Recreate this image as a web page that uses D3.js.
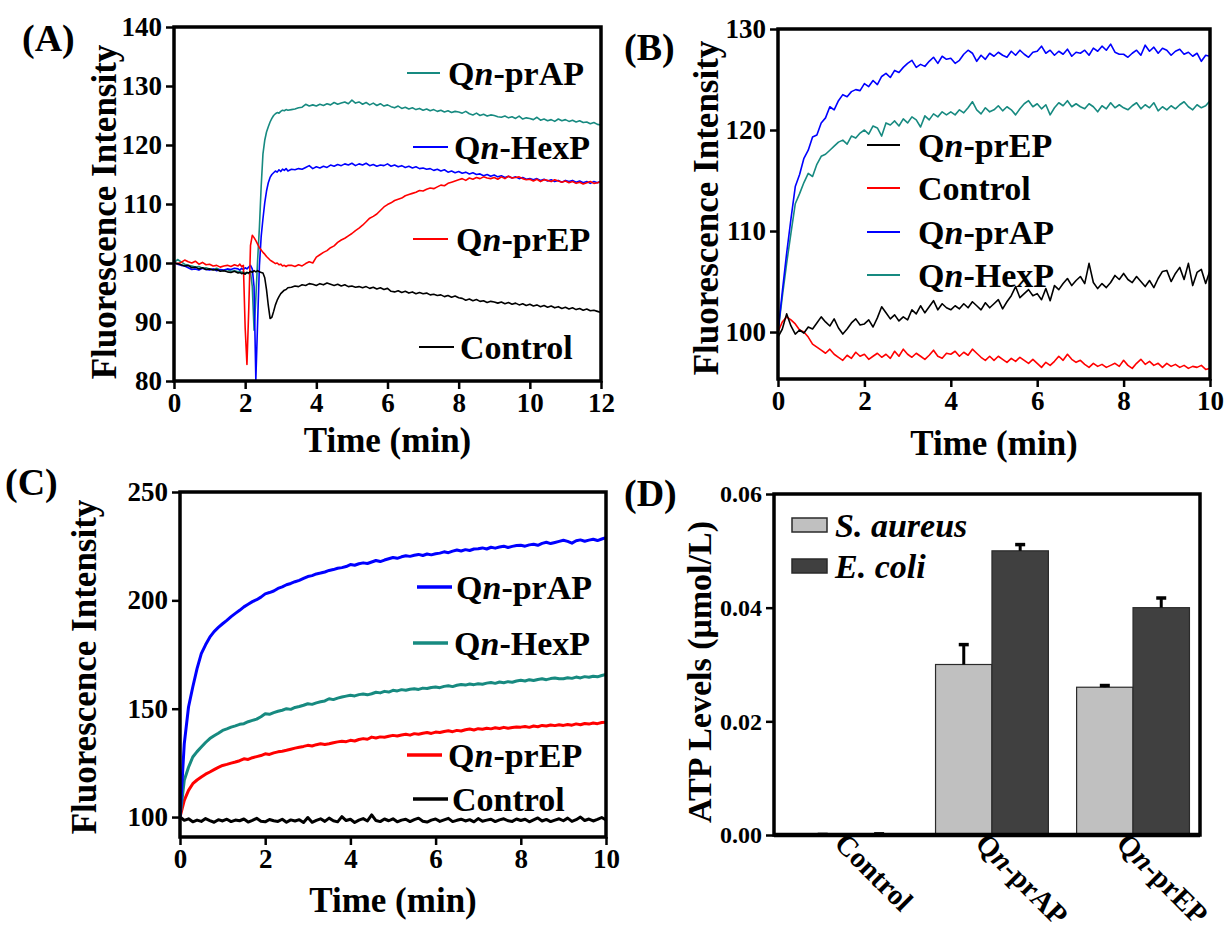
<!DOCTYPE html>
<html>
<head>
<meta charset="utf-8">
<script src="https://cdn.jsdelivr.net/npm/d3@7"></script>
<style>
  body { margin: 0; background: #fff; }
  text { font-family: "Liberation Serif", "Times New Roman", serif; font-weight: bold; fill: #000; }
</style>
</head>
<body>
<div id="fig"></div>
<script>
// ---------------- data ----------------
// panel A : time grid is denser around the injection spikes
var aTime = d3.range(0, 1.75, 0.1).concat(d3.range(1.8, 3.225, 0.05), d3.range(3.3, 12.05, 0.1));
var aNames = ['Qn-prAP', 'Qn-HexP', 'Qn-prEP', 'Control'];
var aPrAP = [
  100.0, 100.6, 100.2, 99.8, 99.6, 99.5, 99.3, 99.4, 99.1, 99.2,
  99.0, 98.9, 99.1, 98.8, 98.7, 98.9, 98.6, 98.7,
  98.5, 98.6, 98.4, 98.5, 98.3, 98.4, 98.2, 98.4, 96.0, 88.6,
  94.0, 100.5, 106.0, 113.0, 118.5, 120.8, 122.2, 123.1, 123.9, 124.5,
  125.0, 125.3, 125.5, 125.4, 125.7, 125.9, 125.8, 126.0, 125.9,
  126.0, 126.1, 126.3, 126.4, 126.9, 126.6, 126.8,
  126.6, 126.9, 126.7, 127.0, 126.8, 127.2, 126.9, 127.1, 127.3, 127.0,
  127.6, 127.1, 127.3, 126.9, 127.2, 126.8, 127.1, 126.7, 127.0, 126.6,
  126.8, 126.5, 126.3, 126.6, 126.2, 126.4, 126.1, 126.3, 126.0, 126.2,
  125.9, 126.1, 125.8, 126.0, 125.7, 125.9, 125.6, 125.8, 125.5, 125.7,
  125.6, 125.4, 125.7, 125.3, 125.1, 125.4, 125.0, 125.2, 124.9, 125.1,
  125.0, 124.8, 124.7, 124.9, 124.6, 124.8, 124.5, 124.9, 124.4, 124.6,
  124.5, 124.3, 124.7, 124.2, 124.4, 124.1, 124.3, 124.0, 124.4, 124.1,
  124.3, 124.0, 124.2, 123.9, 124.1, 123.8, 123.9, 123.6, 123.8, 123.5,
  123.4
];
var aHexP = [
  100.0, 99.8, 99.6, 99.5, 99.2, 98.9, 99.0, 98.8, 99.1, 98.9,
  98.8, 99.0, 98.7, 98.9, 98.8, 99.0, 98.9, 99.1,
  99.0, 98.8, 99.1, 98.9, 99.2, 99.0, 99.3, 99.6, 99.0, 96.0,
  80.2, 90.0, 99.5, 104.5, 107.5, 110.2, 112.2, 113.6, 114.5, 115.0,
  115.3, 115.6, 115.4, 115.8, 115.5, 115.9, 115.7, 116.0, 115.6,
  115.9, 115.8, 116.0, 115.9, 116.2, 116.5, 116.0,
  116.3, 116.1, 116.4, 116.2, 116.6, 116.4, 116.7, 116.5, 116.8, 116.6,
  116.9, 116.5, 116.8, 116.6, 116.9, 116.5, 116.7, 116.4, 116.6, 116.5,
  116.8, 116.4, 116.6, 116.3, 116.5, 116.2, 116.4, 116.1, 116.3, 116.0,
  116.1, 115.9, 116.0, 115.7, 115.9, 115.6, 115.8, 115.4, 115.6, 115.3,
  115.5, 115.2, 115.4, 115.1, 115.3, 115.0, 115.1, 114.8, 115.0, 114.7,
  114.9, 114.6, 114.8, 114.5, 114.7, 114.4, 114.6, 114.3, 114.5, 114.2,
  114.3, 114.1, 114.3, 114.0, 114.2, 113.9, 114.1, 113.8, 114.0, 113.7,
  114.0, 113.8, 114.0, 113.7, 113.9, 113.6, 113.8, 113.5, 113.8, 113.6,
  113.9
];
var aPrEP = [
  100.0, 99.9, 100.1, 100.5, 100.2, 100.0, 100.3, 99.8, 100.1, 99.7,
  99.8, 99.5, 99.6, 99.3, 99.5, 99.6, 99.4, 99.7,
  99.5, 99.8, 99.4, 99.6, 89.0, 82.8, 92.0, 103.0, 104.7, 104.3,
  103.8, 103.2, 102.6, 102.2, 101.8, 101.5, 101.1, 100.8, 100.5, 100.3,
  100.1, 99.9, 100.0, 99.7, 99.8, 99.5, 99.6, 99.4, 99.6,
  99.6, 99.4, 99.7, 99.5, 99.9, 100.2, 100.0,
  101.0, 101.4, 101.8, 102.1, 102.6, 102.9, 103.5, 103.9, 104.2, 104.6,
  105.0, 105.5, 105.9, 106.4, 107.0, 107.6, 107.9, 108.3, 108.9, 109.5,
  109.9, 110.2, 110.6, 110.8, 111.0, 111.4, 111.6, 111.8, 112.0, 112.3,
  112.2, 112.5, 112.7, 112.6, 112.9, 113.2, 113.1, 113.5, 113.7, 113.9,
  114.1, 114.3, 114.0, 114.4, 114.2, 114.5, 114.3, 114.6, 114.4, 114.3,
  114.5, 114.2, 114.6, 114.3, 114.7, 114.4, 114.5, 114.6, 114.3, 114.1,
  114.2, 113.9, 114.2, 113.8, 114.1, 114.0, 113.8, 114.1, 113.9, 113.7,
  113.9, 113.6, 113.8, 113.5, 113.7, 113.4, 113.6, 113.8, 113.5, 113.6,
  113.8
];
var aControl = [
  100.0, 99.9, 99.7, 99.5, 99.6, 99.2, 99.3, 99.0, 99.2, 98.9,
  99.0, 98.8, 98.9, 98.6, 98.7, 98.5, 98.4, 98.6,
  98.3, 98.4, 98.2, 98.3, 98.1, 98.4, 98.3, 98.6, 98.4, 98.7,
  98.5, 98.7, 98.5, 98.4, 98.3, 97.5, 95.5, 92.8, 90.6, 90.8,
  91.8, 92.9, 93.7, 94.3, 94.8, 95.1, 95.4, 95.5, 95.8,
  95.9, 96.1, 96.0, 96.3, 96.2, 96.5, 96.4,
  96.2, 96.5, 96.3, 96.6, 96.4, 96.2, 96.4, 96.1, 96.3, 96.0,
  96.1, 95.9, 96.0, 95.8, 96.0, 95.7, 95.9, 95.6, 95.8, 95.5,
  95.7, 95.2, 95.1, 95.3, 95.0, 95.2, 94.9, 95.1, 94.8, 95.0,
  94.8, 94.9, 94.6, 94.7, 94.5, 94.6, 94.3, 94.5, 94.2, 94.4,
  94.1, 94.0, 93.7, 93.9, 93.6, 93.8, 93.5, 93.6, 93.3, 93.5,
  93.4, 93.2, 93.4, 93.1, 93.3, 93.0, 93.2, 92.9, 93.1, 92.8,
  93.0, 92.7, 92.9, 92.6, 92.8, 92.5, 92.7, 92.4, 92.6, 92.3,
  92.5, 92.2, 92.4, 92.1, 92.3, 92.0, 92.2, 91.9, 92.0, 91.8,
  91.6
];

// panel B : 0.1 min sampling, 0-10 min
var bTime = d3.range(0, 10.05, 0.1);
var bNames = ['Qn-prEP', 'Control', 'Qn-prAP', 'Qn-HexP'];
var bPrAP = [
  100.0, 104.0, 107.8, 111.2, 114.4, 115.6, 117.2, 118.0, 119.3, 119.5,
  120.7, 121.2, 122.3, 122.0, 122.9, 123.5, 123.3, 123.8, 124.0, 123.9,
  124.6, 124.3, 124.9, 124.5, 125.3, 125.6, 125.2, 125.9, 125.7, 126.2,
  126.6, 126.9, 126.2, 126.5, 126.3, 126.8, 127.2, 126.6, 127.3, 127.0,
  127.1, 126.6, 126.9, 127.5, 127.9, 127.6, 126.8, 127.4, 127.0, 127.6,
  127.3, 127.7, 127.4, 127.2, 127.8, 127.4, 127.9, 127.5, 127.2, 127.7,
  127.8, 128.3, 127.6, 127.9, 127.4, 127.8, 127.5, 128.0, 127.3, 127.7,
  127.6, 127.9, 127.4, 128.1, 127.8, 128.3, 127.9, 128.5, 127.7, 127.5,
  127.5, 127.2, 127.6, 127.9, 127.4, 128.4, 127.8, 128.2, 127.6, 128.1,
  127.9, 127.4, 127.8, 128.0, 127.5, 127.7, 127.3, 127.6, 126.8, 127.4,
  127.3
];
var bHexP = [
  100.0, 103.5, 106.8, 109.8, 112.7, 113.7, 114.8, 115.7, 115.4, 116.6,
  117.4, 117.6, 118.0, 118.4, 118.8, 119.0, 118.6, 119.4, 119.2, 119.7,
  120.0, 119.6, 120.4, 120.2, 119.4, 120.7, 120.5, 120.9, 120.4, 121.1,
  120.7, 121.3, 121.0, 120.3, 121.4, 121.0, 121.6, 121.3, 121.8, 121.5,
  121.8, 121.5, 122.0, 121.7, 122.2, 122.8, 122.0, 121.6, 122.2, 121.8,
  122.0, 122.4, 121.9, 122.3, 122.0, 121.5, 122.1, 122.6, 122.9, 122.3,
  122.6, 122.1, 122.5, 121.5, 122.2, 122.7, 122.4, 122.9, 122.3, 122.6,
  122.3, 122.1, 122.6, 122.3, 121.8, 122.4, 122.1, 122.7, 122.2, 122.5,
  122.2, 122.0, 122.4, 122.7, 122.1, 122.5, 122.2, 122.7, 121.9, 122.3,
  122.0, 122.4, 122.1, 122.5, 122.8, 122.3, 122.0, 122.5, 122.2, 122.4,
  122.9
];
var bPrEP = [
  99.5, 100.3, 101.8, 100.6, 99.8, 100.2, 99.9, 100.5, 100.3, 100.9,
  101.5, 101.0, 100.6, 101.3, 100.4, 99.8, 100.3, 100.9, 101.3, 100.7,
  100.8, 101.2, 100.5, 101.4, 102.5, 101.9, 101.3, 101.7, 101.1, 101.5,
  101.2, 102.2, 101.8, 102.6, 101.9, 102.5, 103.1, 102.2, 102.8, 102.4,
  102.2, 102.6, 102.3, 102.8, 102.4, 103.0, 102.6, 102.2, 102.9, 102.4,
  102.8, 103.2, 102.3, 103.0, 103.6, 104.5, 103.4, 103.8, 104.2, 103.6,
  103.8, 103.2, 104.3, 103.1, 104.6, 104.2, 104.8, 105.3, 104.6, 105.1,
  105.5, 104.8, 106.8, 104.9, 104.3, 104.8, 104.4, 104.9, 105.6, 105.2,
  105.8, 105.2, 104.9, 105.5, 105.0, 104.5, 105.1, 104.4, 105.3, 106.0,
  106.1, 105.0, 105.8, 106.4, 105.2, 106.8, 104.6, 105.9, 106.2, 104.8,
  106.1
];
var bControl = [
  100.0, 101.0, 101.5, 101.2, 100.8, 100.2, 100.0, 99.5, 98.8, 98.5,
  98.2, 97.9, 98.3, 97.8, 97.5, 97.2, 97.7, 97.4, 98.0, 97.6,
  97.8, 97.3, 97.6, 97.9, 97.5, 97.8, 97.4, 98.1, 97.6, 98.3,
  97.8, 97.5, 97.9, 97.6, 97.3, 97.7, 98.2, 97.6, 97.4, 97.9,
  97.8, 98.1, 97.6, 98.0, 97.7, 98.3, 97.9, 97.5, 97.2, 97.6,
  97.2, 97.6, 97.3, 97.0, 97.4, 97.1, 97.5, 97.2, 96.9, 97.3,
  96.9, 96.5, 97.0, 96.7, 97.1, 97.6, 97.2, 97.8, 97.3, 97.0,
  97.2, 96.8, 96.5, 96.9, 96.6, 96.8, 96.5, 96.7, 96.9, 96.6,
  97.2, 96.7, 96.4, 96.9, 97.3, 96.8, 97.1, 96.7, 96.9, 96.5,
  96.9, 96.6, 96.8, 96.5, 96.7, 96.4, 96.6, 96.5, 96.7, 96.3,
  96.4
];

// panel C : 0.1 min sampling, 0-10 min
var cTime = d3.range(0, 10.05, 0.1);
var cNames = ['Qn-prAP', 'Qn-HexP', 'Qn-prEP', 'Control'];
var cPrAP = [
  100.0, 133.8, 150.8, 160.0, 168.5, 175.4, 179.5, 183.0, 185.6, 187.5,
  189.2, 190.8, 192.5, 194.0, 195.4, 197.0, 198.2, 199.4, 200.3, 201.5,
  203.0, 203.6, 204.3, 205.5, 206.2, 207.2, 207.8, 208.6, 209.2, 210.1,
  211.0, 211.4, 212.2, 212.6, 213.1, 213.8, 214.2, 214.8, 215.1, 215.6,
  216.5, 216.2, 216.9, 217.3, 217.0, 217.7, 218.4, 217.9, 218.6, 219.2,
  219.8, 219.4, 220.1, 220.6, 220.3, 220.8, 221.2, 220.7, 221.4, 221.0,
  221.5, 221.8, 222.4, 222.0, 222.7, 223.2, 222.8, 223.4, 223.0, 223.7,
  223.8, 224.2, 223.7, 224.5, 224.1, 224.6, 225.0, 224.4, 224.9, 225.3,
  225.4, 225.0, 225.6, 225.9, 225.4, 226.3, 226.8, 226.2, 226.7, 227.2,
  227.7, 227.2, 226.4, 227.5, 227.9, 227.3, 227.8, 228.2, 227.6, 228.3,
  228.9
];
var cHexP = [
  100.0, 117.0, 123.0, 127.7, 130.2, 132.3, 134.4, 136.2, 137.5, 138.7,
  140.0, 140.7, 141.5, 142.1, 142.8, 143.1, 144.0, 144.6, 145.2, 146.3,
  147.7, 147.4, 148.2, 148.8, 149.3, 150.0, 149.7, 150.6, 151.0, 151.6,
  152.3, 152.0, 152.7, 153.2, 153.6, 154.6, 154.2, 154.9, 155.4, 155.8,
  156.2, 155.9, 156.5, 156.8, 156.4, 156.9, 157.6, 157.3, 158.0, 157.7,
  158.5, 158.2, 158.8, 158.5, 159.0, 159.2, 158.9, 159.5, 159.3, 159.8,
  160.0, 159.7, 160.3, 160.6, 160.2, 160.8, 161.2, 160.9, 161.4, 161.1,
  161.5, 161.3, 161.8, 162.1, 161.7, 162.3, 162.0, 162.5, 162.2, 162.8,
  163.1, 162.8, 163.4, 163.0, 163.5, 163.8, 163.4, 163.9, 164.2, 163.8,
  163.8, 164.3, 164.0, 164.6, 164.2, 164.8, 164.5, 165.0, 164.7, 165.3,
  165.8
];
var cPrEP = [
  100.0, 107.7, 112.3, 115.4, 117.1, 118.5, 119.8, 120.8, 121.9, 122.9,
  123.8, 124.3, 124.9, 125.4, 126.0, 126.9, 126.6, 127.4, 127.9, 128.4,
  129.2, 128.9, 129.6, 130.1, 130.4, 130.8, 131.3, 131.8, 132.2, 132.6,
  133.1, 132.8, 133.4, 133.8, 133.5, 133.8, 134.3, 134.7, 135.0, 134.8,
  135.4, 135.1, 135.8, 136.2, 135.9, 136.9, 136.5, 137.0, 136.8, 137.3,
  137.7, 137.4, 137.9, 138.2, 137.8, 138.5, 138.2, 138.7, 139.0, 138.6,
  139.2, 139.0, 139.5, 139.8, 139.4, 140.0, 139.7, 140.3, 140.6, 140.2,
  140.8, 140.5, 141.0, 140.7, 141.2, 140.9, 141.4, 141.0, 141.3, 141.6,
  141.5, 141.8, 141.4, 142.0, 141.7, 142.3, 142.0, 142.5, 142.2, 142.6,
  142.3, 142.7, 142.4, 143.0, 142.6, 143.2, 142.9, 143.4, 143.1, 143.6,
  143.8
];
var cControl = [
  100.0, 98.5, 99.2, 97.8, 98.6, 98.0, 99.3, 98.4, 97.6, 98.8,
  98.2, 99.0, 97.9, 98.6, 98.3, 99.1, 97.7, 98.5, 99.4, 98.1,
  97.8, 98.9, 98.3, 98.0, 99.0, 97.6, 98.7, 98.2, 98.8, 97.5,
  99.8, 97.6, 98.5, 99.2, 98.0, 99.5, 98.3, 97.8, 100.2, 98.4,
  99.0, 97.5, 98.6, 99.3, 98.2, 101.0, 98.4, 97.9, 99.1, 98.3,
  99.2, 97.8, 98.6, 99.0, 97.9, 98.8, 99.5, 98.1, 97.7, 98.6,
  99.1, 98.0, 98.7, 99.4, 97.9, 98.5, 99.0, 98.2, 98.8, 97.8,
  99.3, 98.1, 98.6, 99.0, 97.9, 98.7, 99.2, 98.3, 98.0, 99.1,
  98.4, 99.0, 97.8, 98.7, 99.6, 98.2, 98.9, 97.9, 98.6, 99.2,
  98.3, 99.5, 98.0, 98.8, 100.0, 98.4, 99.1, 98.2, 98.9, 99.8,
  98.7
];

// panel D : ATP levels (umol/L)
var dGroups = ['Control', 'Qn-prAP', 'Qn-prEP'];
var dSeriesNames = ['S. aureus', 'E. coli'];
var dAureus = [0.0000, 0.0300, 0.0260];
var dAureusErr = [0.0001, 0.0035, 0.0003];
var dColi = [0.0001, 0.0500, 0.0400];
var dColiErr = [0.0001, 0.0011, 0.0017];
var dTicks = [0, 0.02, 0.04, 0.06];

// ---------------- drawing ----------------
var svgWidth = 1225;
var svgHeight = 940;
var teal = '#178a80';

var svg = d3.select('#fig')
  .append('svg')
  .attr('width', svgWidth)
  .attr('height', svgHeight)
  .style('background', '#fff');

// writes "Qn-xxx" with an italic n, other names as they are
function nameText(sel, name) {
  if (name.indexOf('Qn') === 0) {
    sel.append('tspan').text('Q');
    sel.append('tspan').style('font-style', 'italic').text('n');
    sel.append('tspan').text(name.slice(2));
  } else {
    sel.text(name);
  }
}

function styleAxis(g, fontSize) {
  g.select('.domain').remove();
  g.selectAll('.tick line').attr('stroke', '#000').attr('stroke-width', 2.5);
  g.selectAll('.tick text')
    .attr('fill', '#000')
    .style('font-size', fontSize + 'px');
}

function linePanel(p) {
  var x = d3.scaleLinear().domain(p.xDomain).range([p.left, p.right]);
  var y = d3.scaleLinear().domain(p.yDomain).range([p.bottom, p.top]);
  var g = svg.append('g');

  g.append('clipPath').attr('id', 'clip' + p.id)
    .append('rect')
    .attr('x', p.left).attr('y', p.top)
    .attr('width', p.right - p.left).attr('height', p.bottom - p.top);

  var line = d3.line()
    .x(function(d) { return x(d[0]); })
    .y(function(d) { return y(d[1]); });

  p.series.forEach(function(s) {
    var n = Math.min(p.time.length, s.values.length);
    var pts = [];
    for (var i = 0; i < n; i++) pts.push([p.time[i], s.values[i]]);
    g.append('path')
      .datum(pts)
      .attr('clip-path', 'url(#clip' + p.id + ')')
      .attr('fill', 'none')
      .attr('stroke', s.color)
      .attr('stroke-width', p.lineWidth)
      .attr('stroke-linejoin', 'round')
      .attr('d', line);
  });

  g.append('g')
    .attr('transform', 'translate(0,' + p.bottom + ')')
    .call(d3.axisBottom(x).tickValues(p.xTicks).tickSize(8).tickPadding(4).tickFormat(d3.format('d')))
    .call(styleAxis, 27);
  g.append('g')
    .attr('transform', 'translate(' + p.left + ',0)')
    .call(d3.axisLeft(y).tickValues(p.yTicks).tickSize(8).tickPadding(4).tickFormat(d3.format('d')))
    .call(styleAxis, 27);

  // frame
  g.append('rect')
    .attr('x', p.left).attr('y', p.top)
    .attr('width', p.right - p.left).attr('height', p.bottom - p.top)
    .attr('fill', 'none').attr('stroke', '#000').attr('stroke-width', 3.5);

  // legend
  p.legend.forEach(function(l) {
    g.append('line')
      .attr('x1', l.x1).attr('x2', l.x2).attr('y1', l.y).attr('y2', l.y)
      .attr('stroke', l.color).attr('stroke-width', p.legendWidth);
    g.append('text')
      .attr('x', l.tx).attr('y', l.y).attr('dy', '0.35em')
      .style('font-size', '34px')
      .call(nameText, l.name);
  });

  // axis titles
  g.append('text')
    .attr('transform', 'translate(' + p.yTitleX + ',' + p.yTitleY + ') rotate(-90)')
    .attr('text-anchor', 'middle').attr('dy', '0.35em')
    .style('font-size', '35px')
    .text('Fluorescence Intensity');
  g.append('text')
    .attr('x', (p.left + p.right) / 2).attr('y', p.xTitleY).attr('dy', '0.35em')
    .attr('text-anchor', 'middle')
    .style('font-size', '35px')
    .text('Time (min)');

  g.append('text')
    .attr('x', p.labelX).attr('y', p.labelY)
    .style('font-size', '38px')
    .text(p.label);
}

// (A)
linePanel({
  id: 'A', label: '(A)', labelX: 22, labelY: 51,
  left: 174, right: 601, top: 27, bottom: 381,
  xDomain: [0, 12], yDomain: [80, 140],
  xTicks: [0, 2, 4, 6, 8, 10, 12], yTicks: [80, 90, 100, 110, 120, 130, 140],
  time: aTime, lineWidth: 1.6, legendWidth: 2.2,
  yTitleX: 104, yTitleY: 212, xTitleY: 440,
  series: [
    {values: aPrAP, color: teal},
    {values: aHexP, color: '#0000ff'},
    {values: aPrEP, color: '#ff0000'},
    {values: aControl, color: '#000'}
  ],
  legend: [
    {name: aNames[0], color: teal, x1: 407, x2: 440, tx: 448, y: 73},
    {name: aNames[1], color: '#0000ff', x1: 413, x2: 448, tx: 454, y: 147},
    {name: aNames[2], color: '#ff0000', x1: 413, x2: 448, tx: 456, y: 239},
    {name: aNames[3], color: '#000', x1: 419, x2: 454, tx: 460, y: 347}
  ]
});

// (B)
linePanel({
  id: 'B', label: '(B)', labelX: 624, labelY: 60,
  left: 778, right: 1210, top: 29, bottom: 379,
  xDomain: [0, 10], yDomain: [95.35, 130],
  xTicks: [0, 2, 4, 6, 8, 10], yTicks: [100, 110, 120, 130],
  time: bTime, lineWidth: 1.6, legendWidth: 2.2,
  yTitleX: 706, yTitleY: 208, xTitleY: 443,
  series: [
    {values: bHexP, color: teal},
    {values: bPrAP, color: '#0000ff'},
    {values: bControl, color: '#ff0000'},
    {values: bPrEP, color: '#000'}
  ],
  legend: [
    {name: bNames[0], color: '#000', x1: 867, x2: 900, tx: 918, y: 145},
    {name: bNames[1], color: '#ff0000', x1: 867, x2: 900, tx: 918, y: 188},
    {name: bNames[2], color: '#0000ff', x1: 867, x2: 900, tx: 918, y: 232},
    {name: bNames[3], color: teal, x1: 867, x2: 900, tx: 918, y: 275}
  ]
});

// (C)
linePanel({
  id: 'C', label: '(C)', labelX: 5, labelY: 495,
  left: 180, right: 606, top: 492, bottom: 837,
  xDomain: [0, 10], yDomain: [90.8, 250],
  xTicks: [0, 2, 4, 6, 8, 10], yTicks: [100, 150, 200, 250],
  time: cTime, lineWidth: 3, legendWidth: 3.5,
  yTitleX: 84, yTitleY: 667, xTitleY: 900,
  series: [
    {values: cControl, color: '#000'},
    {values: cPrEP, color: '#ff0000'},
    {values: cHexP, color: teal},
    {values: cPrAP, color: '#0000ff'}
  ],
  legend: [
    {name: cNames[0], color: '#0000ff', x1: 417, x2: 452, tx: 456, y: 587},
    {name: cNames[1], color: teal, x1: 413, x2: 448, tx: 454, y: 643},
    {name: cNames[2], color: '#ff0000', x1: 407, x2: 442, tx: 448, y: 755},
    {name: cNames[3], color: '#000', x1: 413, x2: 448, tx: 452, y: 799}
  ]
});

// (D) grouped bars with one-sided error bars
var dBox = {left: 774, right: 1200, top: 494, bottom: 835};
var dX = d3.scaleBand().domain(dGroups).range([dBox.left, dBox.right])
  .paddingInner(0.2).paddingOuter(0.11).align(0.66);
var dX1 = d3.scaleBand().domain(dSeriesNames).range([0, dX.bandwidth()]);
var dY = d3.scaleLinear().domain([0, 0.06]).range([dBox.bottom, dBox.top]);
var dColors = ['#c0c0c0', '#404040'];
var dData = [
  {name: dSeriesNames[0], values: dAureus, errs: dAureusErr},
  {name: dSeriesNames[1], values: dColi, errs: dColiErr}
];

var gd = svg.append('g');
dData.forEach(function(s, si) {
  var bars = dGroups.map(function(gName, i) {
    return {group: gName, value: s.values[i], err: s.errs[i]};
  });
  var sel = gd.append('g').selectAll('g').data(bars).enter().append('g');
  sel.append('rect')
    .attr('x', function(d) { return dX(d.group) + dX1(s.name); })
    .attr('y', function(d) { return dY(d.value); })
    .attr('width', dX1.bandwidth())
    .attr('height', function(d) { return dY(0) - dY(d.value); })
    .attr('fill', dColors[si])
    .attr('stroke', '#2a2a2a')
    .attr('stroke-width', 1.2);
  // error bar (upper half only)
  sel.append('line')
    .attr('x1', function(d) { return dX(d.group) + dX1(s.name) + dX1.bandwidth() / 2; })
    .attr('x2', function(d) { return dX(d.group) + dX1(s.name) + dX1.bandwidth() / 2; })
    .attr('y1', function(d) { return dY(d.value); })
    .attr('y2', function(d) { return dY(d.value + d.err); })
    .attr('stroke', '#000').attr('stroke-width', 3);
  sel.append('line')
    .attr('x1', function(d) { return dX(d.group) + dX1(s.name) + dX1.bandwidth() / 2 - 5; })
    .attr('x2', function(d) { return dX(d.group) + dX1(s.name) + dX1.bandwidth() / 2 + 5; })
    .attr('y1', function(d) { return dY(d.value + d.err); })
    .attr('y2', function(d) { return dY(d.value + d.err); })
    .attr('stroke', '#000').attr('stroke-width', 3.5);
});

gd.append('g')
  .attr('transform', 'translate(' + dBox.left + ',0)')
  .call(d3.axisLeft(dY).tickValues(dTicks).tickSize(8).tickPadding(4).tickFormat(d3.format('.2f')))
  .call(styleAxis, 24);

gd.append('rect')
  .attr('x', dBox.left).attr('y', dBox.top)
  .attr('width', dBox.right - dBox.left).attr('height', dBox.bottom - dBox.top)
  .attr('fill', 'none').attr('stroke', '#000').attr('stroke-width', 3.5);
gd.append('line')
  .attr('x1', dBox.left).attr('x2', dBox.right).attr('y1', dBox.bottom).attr('y2', dBox.bottom)
  .attr('stroke', '#000').attr('stroke-width', 4.5);

// rotated category labels (kept just inside the bottom edge)
gd.selectAll('.cat')
  .data(dGroups)
  .enter()
  .append('text')
  .attr('class', 'cat')
  .attr('transform', function(d) {
    return 'translate(' + (dX(d) + dX.bandwidth() / 2 - 18) + ',' + (dBox.bottom + 10) + ') rotate(45)';
  })
  .style('font-size', '29px')
  .each(function(d) { d3.select(this).call(nameText, d); });

// legend
var dLegendY = [525, 566];
dData.forEach(function(s, si) {
  gd.append('rect')
    .attr('x', 792).attr('y', dLegendY[si] - 7)
    .attr('width', 35).attr('height', 14)
    .attr('fill', dColors[si]).attr('stroke', '#2a2a2a').attr('stroke-width', 1.5);
  gd.append('text')
    .attr('x', 835).attr('y', dLegendY[si]).attr('dy', '0.35em')
    .style('font-size', '34px').style('font-style', 'italic')
    .text(s.name);
});

gd.append('text')
  .attr('transform', 'translate(699,672) rotate(-90)')
  .attr('text-anchor', 'middle').attr('dy', '0.35em')
  .style('font-size', '34px')
  .text('ATP Levels (\u03bcmol/L)');

gd.append('text')
  .attr('x', 624).attr('y', 506)
  .style('font-size', '38px')
  .text('(D)');
</script>
</body>
</html>
